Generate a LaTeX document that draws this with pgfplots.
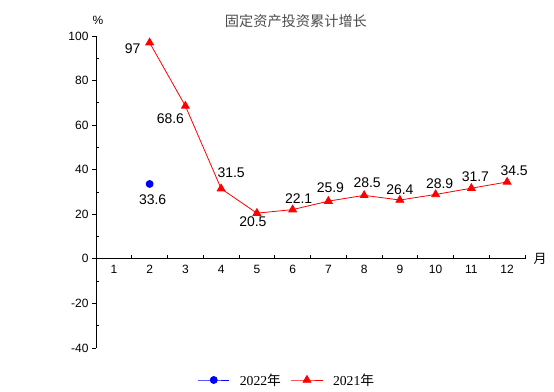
\documentclass[border=0pt]{standalone}
\usepackage{fontspec}
\setmainfont{Liberation Sans}
\newfontfamily\cjk{Noto Sans CJK SC}
\newfontfamily\serif{Liberation Serif}
\usepackage{pgfplots}
\pgfplotsset{compat=1.18}
\begin{document}
\begin{tikzpicture}
\begin{axis}[
  scale only axis, width=429pt, height=312pt,
  xmin=0.5, xmax=12.5, ymin=-40, ymax=100,
  axis x line=middle, axis y line=left,
  axis line style={-, black, line width=0.8pt},
  clip=false,
  font=\fontsize{12}{14}\selectfont,
  /pgf/number format/assume math mode=true,
  tick align=outside,
  major tick length=4pt,
  xtick={1.5,2.5,...,12.5},
  xticklabels={},
  xtick style={yshift=4pt},
  extra x ticks={1,2,...,12},
  extra x tick labels={1,2,3,4,5,6,7,8,9,10,11,12},
  extra x tick style={major tick length=0pt, tick label style={yshift=-3pt}},
  ytick={-40,-20,...,100},
  extra y ticks={-30,-10,10,30,50,70,90},
  extra y tick labels={},
  extra y tick style={tick align=inside, major tick length=3pt},
  tick style={black, line width=0.8pt},
  legend style={draw=none, at={(rel axis cs:0.445,-0.1026)}, anchor=center,
    font=\fontsize{13.7}{15}\selectfont\serif, column sep=8pt},
  legend columns=2,
  legend image code/.code={\draw[mark repeat=2,mark phase=2,#1] plot coordinates {(0cm,0cm) (0.55cm,0cm) (1.1cm,0cm)};},
]
\addplot[blue, line width=0.8pt, mark=*, mark size=3.5pt] coordinates {(2,33.6)};
\addlegendentry{2022{\cjk 年}}
\addplot[red, line width=0.8pt, mark=triangle*, mark size=4.5pt, mark options={solid}] coordinates {
(2,97) (3,68.6) (4,31.5) (5,20.5) (6,22.1) (7,25.9) (8,28.5) (9,26.4) (10,28.9) (11,31.7) (12,34.5)};
\addlegendentry{2021{\cjk 年}}
% data labels
\begin{scope}[every node/.style={font=\fontsize{14}{16}\selectfont}]
\node[xshift=-17pt, yshift=-6pt] at (axis cs:2,97) {97};
\node[xshift=-15pt, yshift=-13pt] at (axis cs:3,68.6) {68.6};
\node[xshift=10pt, yshift=16pt] at (axis cs:4,31.5) {31.5};
\node[xshift=-4pt, yshift=-9pt] at (axis cs:5,20.5) {20.5};
\node[xshift=3pt, yshift=-16pt] at (axis cs:2,33.6) {33.6};
\node[xshift=6pt, yshift=11pt] at (axis cs:6,22.1) {22.1};
\node[xshift=2pt, yshift=13pt] at (axis cs:7,25.9) {25.9};
\node[xshift=3pt, yshift=13pt] at (axis cs:8,28.5) {28.5};
\node[xshift=0pt, yshift=10pt] at (axis cs:9,26.4) {26.4};
\node[xshift=4pt, yshift=11pt] at (axis cs:10,28.9) {28.9};
\node[xshift=4pt, yshift=12pt] at (axis cs:11,31.7) {31.7};
\node[xshift=7pt, yshift=11pt] at (axis cs:12,34.5) {34.5};
\end{scope}
% axis decorations
\node[xshift=2pt, yshift=16pt] at (rel axis cs:0,1) {\%};
\node[anchor=west, xshift=5pt, font=\fontsize{13}{15}\selectfont\cjk] at (axis cs:12.5,0) {月};
\node[text=black!70, font=\fontsize{14.2}{16}\selectfont\cjk] at ([yshift=15pt]rel axis cs:0.466,1) {固定资产投资累计增长};
\path (rel axis cs:-0.2238,-0.141) rectangle (rel axis cs:1.0676,1.1154);
\end{axis}
\end{tikzpicture}
\end{document}
